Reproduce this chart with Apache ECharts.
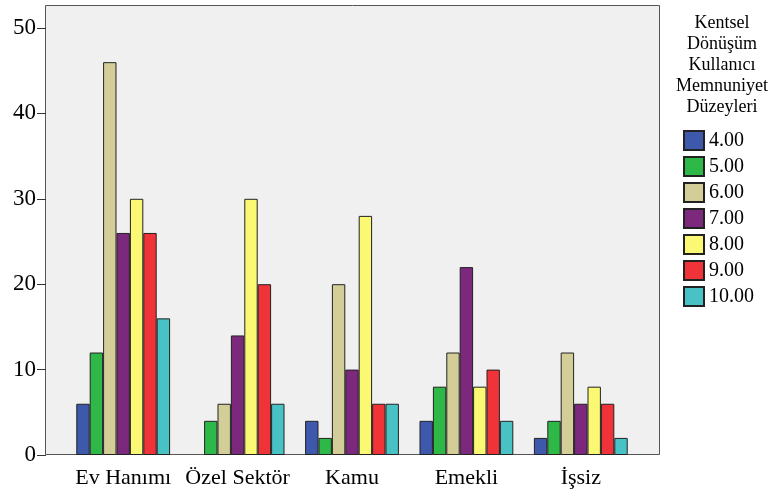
<!DOCTYPE html>
<html>
<head>
<meta charset="utf-8">
<script src="https://cdn.jsdelivr.net/npm/echarts@6/dist/echarts.min.js"></script>
<style>
  html, body { margin: 0; padding: 0; background: #fff; }
  #chart { width: 772px; height: 495px; }
</style>
</head>
<body>
<div id="chart"></div>
<script>
// groups on the x axis
const categories = ["Ev Hanımı", "Özel Sektör", "Kamu", "Emekli", "İşsiz"];
// satisfaction levels (legend)
const levels = ["4.00", "5.00", "6.00", "7.00", "8.00", "9.00", "10.00"];
// counts per level, one value per category (null = no bar)
const v4 = [6, null, 4, 4, 2];
const v5 = [12, 4, 2, 8, 4];
const v6 = [46, 6, 20, 12, 12];
const v7 = [26, 14, 10, 22, 6];
const v8 = [30, 30, 28, 8, 8];
const v9 = [26, 20, 6, 10, 6];
const v10 = [16, 6, 6, 4, 2];
const yTicks = [0, 10, 20, 30, 40, 50];
const legendTitle = ["Kentsel", "Dönüşüm", "Kullanıcı", "Memnuniyet", "Düzeyleri"];

const colors = ["#3e58ac", "#2eb848", "#d3ce97", "#7c287d", "#fbf873", "#ef3338", "#48c2c5"];
const values = [v4, v5, v6, v7, v8, v9, v10];
const font = "Liberation Serif";

const chart = echarts.init(document.getElementById("chart"));

const option = {
  animation: false,
  color: colors,
  textStyle: { fontFamily: font },
  // legend heading, centred over the legend
  title: {
    text: legendTitle.join("\n"),
    left: 717,
    top: 8,
    textAlign: "center",
    textStyle: { fontFamily: font, fontSize: 18, fontWeight: "normal", lineHeight: 21, color: "#000" }
  },
  grid: { left: 66, right: 134, top: 28, bottom: 40 },
  graphic: [
    {
      type: "rect",
      z: -10,
      shape: { x: 45.5, y: 5.5, width: 614, height: 449 },
      style: { fill: "#f0f0f0", stroke: "#555", lineWidth: 1 }
    }
  ],
  legend: {
    orient: "vertical",
    left: 678,
    top: 125,
    icon: "rect",
    itemWidth: 20,
    itemHeight: 19,
    itemGap: 5,
    data: levels,
    textStyle: { fontSize: 20, lineHeight: 19, color: "#000", fontFamily: font }
  },
  xAxis: {
    type: "category",
    data: categories,
    axisLine: { show: false },
    axisTick: { alignWithLabel: true, length: 7, lineStyle: { color: "#333" } },
    axisLabel: { interval: 0, fontSize: 22, color: "#000", margin: 12, fontFamily: font }
  },
  yAxis: {
    type: "value",
    min: 0,
    max: 50,
    interval: 10,
    offset: 20,
    splitLine: { show: false },
    axisLine: { show: false },
    axisTick: { show: true, length: 9, lineStyle: { color: "#333" }, customValues: yTicks },
    axisLabel: { fontSize: 23, color: "#000", margin: 10, fontFamily: font, customValues: yTicks }
  },
  series: levels.map((name, i) => ({
    name: name,
    type: "bar",
    data: values[i],
    barGap: 0,
    barCategoryGap: "18%",
    itemStyle: { borderColor: "#222", borderWidth: 1 }
  }))
};

chart.setOption(option);
</script>
</body>
</html>
